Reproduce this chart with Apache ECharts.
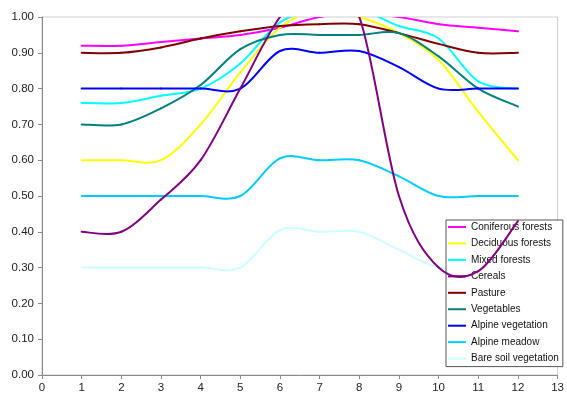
<!DOCTYPE html>
<html>
<head>
<meta charset="utf-8">
<title>Vegetation index by month</title>
<script src="https://cdn.jsdelivr.net/npm/echarts@6/dist/echarts.min.js"></script>
<style>
  html, body { margin: 0; padding: 0; background: #fff; }
  #chart { width: 567px; height: 394px; }
</style>
</head>
<body>
<div id="chart"></div>
<script>
// Months (x positions) and the monthly value of each land-cover class
const months = [1, 2, 3, 4, 5, 6, 7, 8, 9, 10, 11, 12];

const coniferous   = [0.92, 0.92, 0.93, 0.94, 0.95, 0.97, 1.00, 1.01, 1.00, 0.98, 0.97, 0.96];
const deciduous    = [0.60, 0.60, 0.60, 0.70, 0.845, 0.97, 1.02, 1.00, 0.955, 0.88, 0.735, 0.60];
const mixed        = [0.76, 0.76, 0.78, 0.80, 0.87, 0.985, 1.02, 1.02, 0.975, 0.94, 0.82, 0.80];
const cereals      = [0.40, 0.40, 0.49, 0.60, 0.80, 1.00, 1.10, 1.00, 0.50, 0.30, 0.29, 0.43];
const pasture      = [0.90, 0.90, 0.915, 0.94, 0.96, 0.975, 0.98, 0.98, 0.955, 0.925, 0.90, 0.90];
const vegetables   = [0.70, 0.70, 0.745, 0.81, 0.91, 0.95, 0.95, 0.95, 0.955, 0.89, 0.80, 0.75];
const alpineVeg    = [0.80, 0.80, 0.80, 0.80, 0.80, 0.905, 0.90, 0.905, 0.86, 0.80, 0.80, 0.80];
const alpineMeadow = [0.50, 0.50, 0.50, 0.50, 0.50, 0.605, 0.60, 0.60, 0.555, 0.50, 0.50, 0.50];
const bareSoil     = [0.30, 0.30, 0.30, 0.30, 0.30, 0.405, 0.40, 0.40, 0.35, 0.30, 0.30, 0.30];

const seriesNames = [
  'Coniferous forests', 'Deciduous forests', 'Mixed forests', 'Cereals', 'Pasture',
  'Vegetables', 'Alpine vegetation', 'Alpine meadow', 'Bare soil vegetation'
];
const seriesValues = [
  coniferous, deciduous, mixed, cereals, pasture,
  vegetables, alpineVeg, alpineMeadow, bareSoil
];
const seriesColors = [
  '#ff00ff', '#ffff00', '#00ffff', '#800080', '#800000',
  '#008080', '#0000ff', '#00ccff', '#ccffff'
];

const FONT = '"Liberation Sans", Arial, sans-serif';

// Each data item draws the curve segment from its month to the next one as a
// cubic Bezier whose control points follow the neighbouring points
// (Catmull-Rom style, 1/6 tangent), so the curve may overshoot between points.
function segmentRenderer(values, color) {
  const last = values.length - 1;
  const at = j => Math.max(0, Math.min(last, j));
  return function (params, api) {
    const k = params.dataIndex;
    if (k >= last) return null;
    const pt = j => api.coord([months[at(j)], values[at(j)]]);
    const p0 = pt(k - 1), p1 = pt(k), p2 = pt(k + 1), p3 = pt(k + 2);
    return {
      type: 'bezierCurve',
      shape: {
        x1: p1[0], y1: p1[1],
        x2: p2[0], y2: p2[1],
        cpx1: p1[0] + (p2[0] - p0[0]) / 6,
        cpy1: p1[1] + (p2[1] - p0[1]) / 6,
        cpx2: p2[0] - (p3[0] - p1[0]) / 6,
        cpy2: p2[1] - (p3[1] - p1[1]) / 6
      },
      style: { stroke: color, lineWidth: 2, fill: null, lineCap: 'round' }
    };
  };
}

const chart = echarts.init(document.getElementById('chart'), null, { renderer: 'canvas' });

chart.setOption({
  animation: false,
  backgroundColor: '#ffffff',
  grid: {
    left: 42, right: 3, top: 17, bottom: 19,
    show: true, borderColor: '#cfcfcf', borderWidth: 1
  },
  xAxis: {
    type: 'value', min: 0, max: 13, interval: 1,
    axisLine: { show: true, lineStyle: { color: '#8a8a8a', width: 1 } },
    axisTick: { show: true, length: 4, lineStyle: { color: '#8a8a8a' } },
    axisLabel: { color: '#222', fontFamily: FONT, fontSize: 11.5, margin: 7 },
    splitLine: { show: false }
  },
  yAxis: {
    type: 'value', min: 0, max: 1, interval: 0.1,
    axisLine: { show: true, lineStyle: { color: '#8a8a8a', width: 1 } },
    axisTick: { show: true, length: 4, lineStyle: { color: '#8a8a8a' } },
    axisLabel: {
      color: '#222', fontFamily: FONT, fontSize: 11.5, margin: 8,
      formatter: v => v.toFixed(2)
    },
    splitLine: { show: false }
  },
  legend: {
    orient: 'vertical',
    left: 446, top: 220,
    z: 3,
    icon: 'rect',
    itemWidth: 18, itemHeight: 2, itemGap: 6.45,
    padding: [2, 4, 3, 2],
    backgroundColor: '#ffffff',
    borderColor: '#555', borderWidth: 1, borderRadius: 0,
    textStyle: { fontFamily: FONT, fontSize: 10, color: '#111' },
    data: seriesNames
  },
  series: seriesNames.map((name, i) => ({
    name: name,
    type: 'custom',
    coordinateSystem: 'cartesian2d',
    clip: true,
    z: name === 'Cereals' ? 4 : 2,
    itemStyle: { color: seriesColors[i] },
    renderItem: segmentRenderer(seriesValues[i], seriesColors[i]),
    encode: { x: 0, y: 1 },
    data: months.map((m, k) => [m, seriesValues[i][k]])
  }))
});
</script>
</body>
</html>
